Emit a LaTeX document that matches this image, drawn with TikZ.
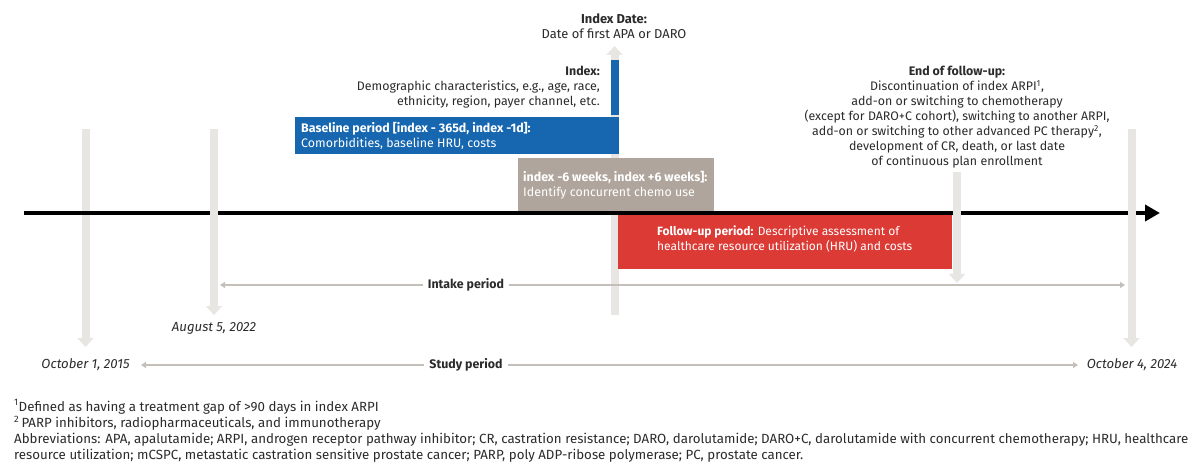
\documentclass[tikz,border=0pt]{standalone}
\usepackage{fontspec}
\setmainfont{Fira Sans}
\usepackage{color}
\usetikzlibrary{
	positioning
	, arrows.meta
}
\definecolor{barblue}{HTML}{1767B0}
\definecolor{bartan}{HTML}{AFA59C}
\definecolor{barred}{HTML}{DC3A35}
\definecolor{markgrey}{HTML}{E7E6E3}
\definecolor{spangrey}{HTML}{C4BFB8}
\definecolor{inktext}{HTML}{2B2B2B}

\begin{document}
\begin{tikzpicture}[
		x=1pt, y=-1pt,
		every node/.style={font=\fontsize{12.4}{15}\selectfont, text=inktext, inner sep=0pt},
		marker/.style={line width=8pt, draw=markgrey, -{Triangle[length=9pt,width=16pt]}},
		span/.style={line width=2pt, draw=spangrey, -{Triangle[length=5pt,width=6pt]}},
		period/.style={align=left, text=white, anchor=north west},
		note/.style={align=center, anchor=north},
		datelabel/.style={font=\fontsize{13.2}{15}\selectfont\itshape},
		spanlabel/.style={font=\fontsize{12.4}{15}\selectfont\bfseries, fill=white, inner xsep=5pt, inner ysep=3pt},
		footnote/.style={font=\fontsize{13.3}{16.2}\selectfont, align=left, anchor=north west}
	]
	\useasboundingbox (0,0) rectangle (1200,465);

	% Ends of the grey date markers
	\coordinate (studystarttop) at (85.5,129);
	\coordinate (studystartend) at (85.5,347);
	\coordinate (intakestarttop) at (214,129);
	\coordinate (intakestartend) at (214,315);
	\coordinate (indexbottom) at (614.5,315);
	\coordinate (indextop) at (614.5,46);
	\coordinate (followtop) at (957,172);
	\coordinate (followend) at (957,283);
	\coordinate (studyendtop) at (1131.5,129);
	\coordinate (studyendend) at (1131.5,347);

	% Markers that lie behind the time line
	\draw[marker] (indexbottom) -- (indextop);
	\draw[marker] (studystarttop) -- (studystartend);

	% The time line
	\coordinate (linestart) at (24,213);
	\coordinate (lineend) at (1160,213);
	\draw[line width=4pt, -{Triangle[length=15pt,width=16pt]}] (linestart) -- (lineend);

	% Markers that lie over the time line
	\foreach \marktop/\markend in {intakestarttop/intakestartend, followtop/followend, studyendtop/studyendend} {
		\draw[marker] (\marktop) -- (\markend);
	};

	% Periods
	\fill[barblue] (611,60) rectangle (619,115);
	\fill[barblue] (295,117) rectangle (619,154);
	\fill[bartan] (518,158) rectangle (714,211);
	\fill[barred] (618,215) rectangle (952,269);
	\node[period] (baseline) at (301,122) {\textbf{Baseline period [index - 365d, index -1d]:}\\Comorbidities, baseline HRU, costs};
	\node[period] (concurrent) at (523,171) {\textbf{index -6 weeks, index +6 weeks]:}\\Identify concurrent chemo use};
	\node[period, font=\fontsize{12}{15}\selectfont] (followup) at (657,226) {\textbf{Follow-up period:} Descriptive assessment of\\healthcare resource utilization (HRU) and costs};

	% Notes
	\node[note, font=\fontsize{12.9}{15}\selectfont] (indexdate) at (614,14) {\textbf{Index Date:}\\Date of first APA or DARO};
	\node[align=right, anchor=north east] (indexnote) at (600,66) {\textbf{Index:}\\Demographic characteristics, e.g., age, race,\\ethnicity, region, payer channel, etc.};
	\node[note] (endnote) at (957,66) {\textbf{End of follow-up:}\\Discontinuation of index ARPI\textsuperscript{1},\\add-on or switching to chemotherapy\\(except for DARO+C cohort), switching to another ARPI,\\add-on or switching to other advanced PC therapy\textsuperscript{2},\\development of CR, death, or last date\\of continuous plan enrollment};

	% Spans and dates
	\node[datelabel] (augdate) at (214,328) {August 5, 2022};
	\node[datelabel] (octstart) at (85.5,365) {October 1, 2015};
	\node[datelabel] (octend) at (1132,365) {October 4, 2024};
	\node[spanlabel] (intake) at (466,285) {Intake period};
	\node[spanlabel] (study) at (466,365) {Study period};
	\coordinate (intakeleft) at (220,285);
	\coordinate (intakeright) at (1125,285);
	\coordinate (studyleft) at (141,365);
	\coordinate (studyright) at (1078,365);
	\draw[span] (intake) -- (intakeleft);
	\draw[span] (intake) -- (intakeright);
	\draw[span] (study) -- (studyleft);
	\draw[span] (study) -- (studyright);

	% Footnotes
	\node[footnote] (footnotes) at (14,399.5) {\textsuperscript{1}Defined as having a treatment gap of >90 days in index ARPI\\\textsuperscript{2}\,PARP inhibitors, radiopharmaceuticals, and immunotherapy\\Abbreviations: APA, apalutamide; ARPI, androgen receptor pathway inhibitor; CR, castration resistance; DARO, darolutamide; DARO+C, darolutamide with concurrent chemotherapy; HRU, healthcare\\resource utilization; mCSPC, metastatic castration sensitive prostate cancer; PARP, poly ADP-ribose polymerase; PC, prostate cancer.};
\end{tikzpicture}
\end{document}
